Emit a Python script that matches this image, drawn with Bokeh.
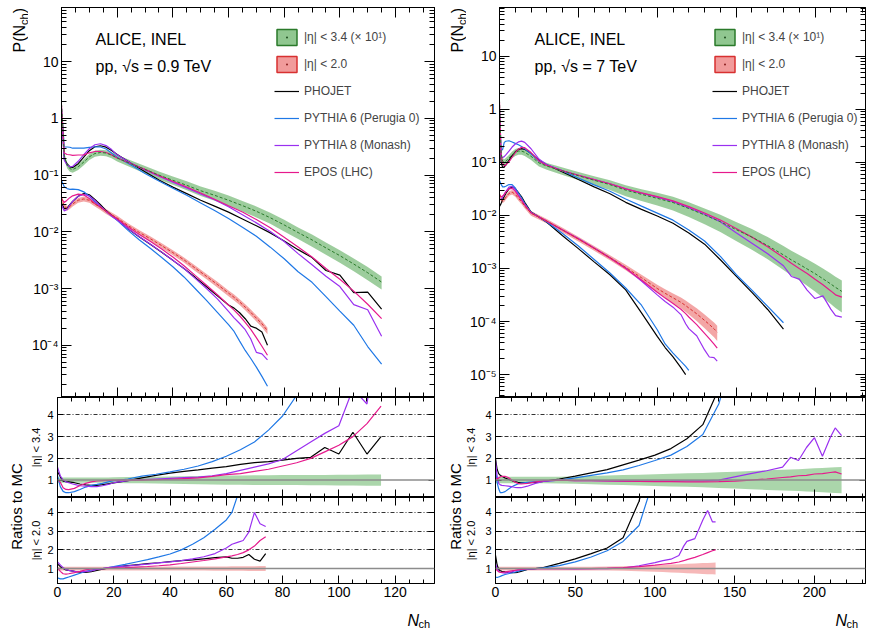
import numpy as np
from bokeh.plotting import figure
from bokeh.layouts import row, column
from bokeh.models import (Range1d, FixedTicker, LinearAxis, LogAxis,
                          CustomJSTickFormatter, Label, Span, Legend, LegendItem)
from bokeh.embed import file_html
from bokeh.resources import INLINE

nan = float("nan")
FONT = "Liberation Sans"

# ---------------- sqrt(s) = 0.9 TeV ----------------
# |eta| < 3.4 (drawn x10)
lw_n = [0, 1, 2, 3, 4, 6, 8, 10, 12, 14, 16, 18, 20, 25, 30, 35, 40, 45, 50, 55,
        60, 65, 70, 75, 80, 85, 90, 95, 100, 105, 110, 115]
lw_data = [1.8, 0.22, 0.15, 0.13, 0.125, 0.14, 0.17, 0.21, 0.24, 0.25, 0.245, 0.225, 0.20,
           0.158, 0.126, 0.10, 0.081, 0.066, 0.053, 0.044, 0.036, 0.029, 0.023, 0.0177,
           0.0132, 0.0097, 0.0072, 0.0052, 0.0038, 0.0027, 0.0019, 0.0013]
lw_err = [0.12] * 12 + [0.13, 0.14, 0.15, 0.16, 0.17, 0.18, 0.19, 0.2, 0.21, 0.21, 0.22,
                        0.22, 0.23, 0.23, 0.24, 0.24, 0.25, 0.25, 0.26, 0.26]
lw_r_phojet = [1.4, 1.15, 0.95, 0.93, 0.92, 0.88, 0.82, 0.78, 0.76, 0.76, 0.79, 0.83, 0.87,
               0.98, 1.1, 1.22, 1.32, 1.4, 1.47, 1.55, 1.62, 1.72, 1.8, 1.85, 1.92, 2.0,
               2.05, 2.5, 2.2, 3.2, 2.2, 3.0]
lw_r_py6 = [1.2, 0.7, 0.48, 0.42, 0.42, 0.47, 0.57, 0.68, 0.76, 0.8, 0.85, 0.92, 0.97,
            1.05, 1.18, 1.27, 1.38, 1.5, 1.65, 1.85, 2.1, 2.4, 2.75, 3.3, 3.95, 4.9, 5.6,
            7.2, 9.5, 12.0, 20.0, 28.0]
lw_r_py8 = [1.6, 1.2, 1.0, 0.92, 0.88, 0.8, 0.74, 0.72, 0.7, 0.7, 0.74, 0.8, 0.88,
            0.98, 1.02, 1.05, 1.08, 1.11, 1.14, 1.2, 1.3, 1.45, 1.6, 1.75, 1.95, 2.35,
            2.75, 3.15, 3.5, 5.2, 4.5, 9.0]
lw_r_epos = [1.05, 0.9, 0.65, 0.57, 0.56, 0.62, 0.75, 0.85, 0.92, 0.96, 0.98, 0.99, 1.0,
             1.0, 1.0, 1.02, 1.04, 1.07, 1.1, 1.17, 1.25, 1.3, 1.4, 1.5, 1.65, 1.8, 2.0,
             2.3, 2.6, 3.0, 3.6, 4.4]
# |eta| < 2.0
ln_n = [0, 1, 2, 3, 4, 6, 8, 10, 12, 14, 16, 18, 20, 24, 28, 32, 36, 40, 44, 48, 52, 56,
        60, 62, 64, 66, 68, 70, 72, 74]
ln_data = [0.04, 0.028, 0.026, 0.028, 0.031, 0.036, 0.038, 0.036, 0.031, 0.027, 0.023,
           0.02, 0.0175, 0.0128, 0.0097, 0.0075, 0.0057, 0.0043, 0.0032, 0.0023, 0.00165,
           0.00118, 0.00083, 0.0007, 0.00058, 0.00047, 0.00038, 0.0003, 0.00024, 0.00018]
ln_err = [0.1] * 17 + [0.105, 0.105, 0.11, 0.11, 0.115, 0.115, 0.12, 0.12, 0.12, 0.125,
                       0.125, 0.13, 0.13]
ln_r_phojet = [1.25, 1.1, 1.0, 0.93, 0.9, 0.85, 0.8, 0.8, 0.83, 0.9, 0.97, 1.02, 1.07,
               1.14, 1.2, 1.26, 1.31, 1.37, 1.42, 1.46, 1.52, 1.58, 1.62, 1.55, 1.55, 1.6,
               1.75, 1.5, 1.4, 1.8]
ln_r_py6 = [0.5, 0.45, 0.45, 0.5, 0.55, 0.65, 0.75, 0.85, 0.92, 0.97, 1.0, 1.05, 1.1,
            1.22, 1.35, 1.48, 1.62, 1.78, 2.0, 2.3, 2.65, 3.1, 3.6, 4.0, 4.9, 5.8, 6.5,
            7.3, 8.5, 9.5]
ln_r_py8 = [1.35, 1.2, 1.05, 0.95, 0.9, 0.85, 0.83, 0.84, 0.87, 0.95, 1.0, 1.05, 1.08,
            1.13, 1.18, 1.24, 1.3, 1.36, 1.42, 1.52, 1.63, 1.8, 2.1, 2.3, 2.4, 2.5, 2.95,
            4.0, 3.4, 3.25]
ln_r_epos = [1.05, 0.85, 0.72, 0.7, 0.72, 0.78, 0.85, 0.93, 0.98, 1.0, 1.0, 1.02, 1.03,
             1.05, 1.08, 1.11, 1.15, 1.2, 1.27, 1.35, 1.43, 1.52, 1.62, 1.68, 1.75, 1.85,
             2.0, 2.2, 2.5, 2.7]

# ---------------- sqrt(s) = 7 TeV ----------------
rw_n = [0, 1, 2, 3, 4, 6, 8, 10, 12, 14, 16, 20, 25, 30, 40, 50, 60, 70, 80, 90, 100, 110,
        120, 130, 140, 150, 160, 170, 180, 185, 190, 195, 200, 205, 210, 213, 217]
rw_data = [1.5, 0.15, 0.105, 0.1, 0.105, 0.12, 0.14, 0.155, 0.163, 0.163, 0.155, 0.13,
           0.098, 0.085, 0.069, 0.056, 0.046, 0.038, 0.030, 0.025, 0.021, 0.0175, 0.0135,
           0.0102, 0.0076, 0.0054, 0.0039, 0.0027, 0.0018, 0.00145, 0.0012, 0.00098,
           0.0008, 0.00064, 0.00051, 0.00044, 0.00037]
rw_err = [0.15] * 14 + [0.16, 0.17, 0.19, 0.21, 0.23, 0.25, 0.27, 0.29, 0.31, 0.33, 0.36,
                        0.39, 0.42, 0.45, 0.48, 0.49, 0.5, 0.52, 0.54, 0.56, 0.58, 0.59, 0.6]
rw_r_phojet = [2.0, 1.5, 1.3, 1.22, 1.18, 1.1, 1.04, 0.98, 0.93, 0.9, 0.88, 0.88, 0.9,
               0.94, 1.05, 1.18, 1.33, 1.48, 1.7, 1.92, 2.15, 2.45, 2.9, 3.55, 5.2, 7.5,
               11.0, 16.0, 25.0] + [nan] * 8
rw_r_py6 = [1.5, 0.9, 0.6, 0.42, 0.42, 0.47, 0.58, 0.68, 0.76, 0.82, 0.86, 0.9, 0.93,
            0.95, 1.0, 1.1, 1.22, 1.33, 1.47, 1.67, 1.9, 2.15, 2.55, 3.1, 4.5, 7.0, 10.0,
            14.0, 19.0] + [nan] * 8
rw_r_py8 = [1.9, 1.2, 0.85, 0.78, 0.76, 0.74, 0.72, 0.7, 0.67, 0.65, 0.65, 0.72, 0.85,
            0.94, 1.0, 0.98, 0.97, 0.96, 0.95, 0.95, 0.95, 0.96, 0.97, 0.97, 1.0, 1.15,
            1.3, 1.43, 1.6, 2.05, 1.9, 2.5, 2.95, 2.1, 2.97, 3.4, 3.05]
rw_r_epos = [1.1, 1.05, 1.1, 1.15, 1.17, 1.17, 1.12, 1.02, 0.92, 0.85, 0.82, 0.85, 0.92,
             0.97, 1.0, 0.98, 0.97, 0.96, 0.95, 0.94, 0.93, 0.93, 0.92, 0.92, 0.93, 0.95,
             1.0, 1.05, 1.12, 1.15, 1.2, 1.22, 1.28, 1.3, 1.35, 1.38, 1.28]
rn_n = [0, 1, 2, 3, 4, 6, 8, 10, 12, 14, 16, 20, 25, 30, 40, 50, 60, 70, 80, 90, 100, 105,
        110, 115, 118, 120, 125, 130, 133, 136, 138]
rn_data = [0.025, 0.02, 0.019, 0.02, 0.022, 0.026, 0.0275, 0.025, 0.021, 0.018, 0.015,
           0.011, 0.0093, 0.0078, 0.0053, 0.0036, 0.0024, 0.0016, 0.00105, 0.00067,
           0.00042, 0.00034, 0.00028, 0.00023, 0.0002, 0.00018, 0.00014, 0.000105,
           8.8e-5, 7.3e-5, 6.3e-5]
rn_err = [0.1] * 17 + [0.11, 0.12, 0.14, 0.17, 0.19, 0.21, 0.23, 0.24, 0.25, 0.27, 0.29,
                       0.3, 0.31, 0.32]
rn_r_phojet = [1.7, 1.2, 0.95, 0.88, 0.85, 0.82, 0.8, 0.78, 0.78, 0.8, 0.85, 0.95, 1.0,
               1.05, 1.28, 1.52, 1.8, 2.1, 2.65, 4.6, 8.0, 10.5, 13.0, 17.0, 20.0] + [nan] * 6
rn_r_py6 = [0.55, 0.52, 0.55, 0.58, 0.62, 0.68, 0.72, 0.76, 0.8, 0.85, 0.9, 0.96, 1.0,
            1.04, 1.16, 1.36, 1.62, 1.95, 2.45, 3.3, 6.0, 9.0, 11.0, 13.0, 14.0, 15.0] + [nan] * 5
rn_r_py8 = [1.25, 1.0, 0.85, 0.8, 0.78, 0.76, 0.78, 0.82, 0.87, 0.92, 0.95, 0.98, 1.0,
            1.0, 1.0, 0.98, 0.99, 1.0, 1.03, 1.15, 1.32, 1.42, 1.5, 1.7, 2.2, 2.45, 2.6,
            3.6, 4.1, 3.5, 3.5]
rn_r_epos = [1.0, 0.9, 0.82, 0.8, 0.8, 0.82, 0.85, 0.88, 0.9, 0.93, 0.95, 0.98, 1.0, 1.0,
             1.0, 1.0, 1.0, 1.02, 1.05, 1.1, 1.18, 1.23, 1.28, 1.35, 1.42, 1.48, 1.6, 1.75,
             1.85, 1.95, 2.0]

models = ["PHOJET", "PYTHIA 6 (Perugia 0)", "PYTHIA 8 (Monash)", "EPOS (LHC)"]
colors = ["black", "#1f78e6", "#9a30f0", "#e6198c"]

GREEN_FILL, GREEN_LINE = "#84c184", "#2a7a2a"
RED_FILL, RED_LINE = "#f09090", "#d83030"

LOG_FMT = """
const e = Math.round(Math.log10(tick));
if (e === 1) return '10';
if (e === 0) return '1';
const sup = {'-': '\u207b', '0': '\u2070', '1': '\u00b9', '2': '\u00b2', '3': '\u00b3',
             '4': '\u2074', '5': '\u2075', '6': '\u2076', '7': '\u2077', '8': '\u2078', '9': '\u2079'};
return '10' + String(e).split('').map(c => sup[c]).join('');
"""

MAIN_TB = 7
MAIN_H = 390 + MAIN_TB   # main panel: frame 390 + top border
R1_H = 100
R2_BB = 20
R2_H = 86 + R2_BB        # ratio frame 86 + tick-label border
STRIP_H = 26


def log_ticker():
    return FixedTicker(ticks=[10.0 ** e for e in range(-6, 3)],
                       minor_ticks=[k * 10.0 ** e for e in range(-6, 2) for k in range(2, 10)])


def base_fig(w, h, xr, yr, ylog, bl, br, bt, bb):
    p = figure(width=w, height=h, x_range=xr, y_range=yr,
               y_axis_type="log" if ylog else "linear",
               output_backend="svg", toolbar_location=None,
               min_border_left=bl, min_border_right=br,
               min_border_top=bt, min_border_bottom=bb)
    p.outline_line_color = "black"
    p.outline_line_width = 1
    p.xgrid.visible = False
    p.ygrid.visible = False
    return p


def text_fig(w, h):
    p = figure(width=w, height=h, x_axis_type=None, y_axis_type=None,
               x_range=Range1d(0, 1), y_range=Range1d(0, 1),
               output_backend="svg", toolbar_location=None, min_border=0)
    p.outline_line_color = None
    return p


def style_axis(ax, lens, labels, size, standoff=4):
    ax.major_tick_in, ax.minor_tick_in = lens
    ax.major_tick_out = 0
    ax.minor_tick_out = 0
    ax.axis_line_color = "black"
    ax.major_tick_line_color = "black"
    ax.minor_tick_line_color = "black"
    ax.major_label_text_font = FONT
    ax.major_label_text_color = "black"
    if labels:
        ax.major_label_text_font_size = size
        ax.major_label_standoff = standoff
    else:
        ax.formatter = CustomJSTickFormatter(code="return '';")
        ax.major_label_text_font_size = "0px"
        ax.major_label_standoff = 0


def frame_axes(p, xt, yt, ylog, xlen, ylen, xlabels, ylabels, xsize, ysize, yfmt=None, ystand=4):
    bx = p.xaxis[0]
    ly = p.yaxis[0]
    bx.ticker = xt
    ly.ticker = yt
    style_axis(bx, xlen, xlabels, xsize, 3)
    style_axis(ly, ylen, ylabels, ysize, ystand)
    if ylabels and yfmt is not None:
        ly.formatter = yfmt
    top = LinearAxis(ticker=xt)
    style_axis(top, xlen, False, xsize)
    p.add_layout(top, "above")
    rgt = (LogAxis if ylog else LinearAxis)(ticker=yt)
    style_axis(rgt, ylen, False, ysize)
    p.add_layout(rgt, "right")


def add_label(p, text, x, y, size, angle=0.0, align="left", baseline="alphabetic", style="normal"):
    p.add_layout(Label(x=x, y=y, x_units="screen", y_units="screen", text=text,
                       text_font=FONT, text_font_size=size, angle=angle,
                       text_align=align, text_baseline=baseline,
                       text_font_style=style, text_color="black"))


def main_panel(w, bl, br, xr, yr, xt, wide, narrow, energy, tx):
    p = base_fig(w, MAIN_H, xr, yr, True, bl, br, MAIN_TB, 0)
    frame_axes(p, xt, log_ticker(), True, (10, 5), (10, 5), False, True,
               "14px", "14px", CustomJSTickFormatter(code=LOG_FMT), ystand=3)
    first_lines = None
    for (n, d, e, ratios, fill, cline) in [wide, narrow]:
        n = np.array(n, dtype=float)
        d = np.array(d, dtype=float)
        e = np.array(e, dtype=float)
        p.varea(x=n, y1=d * (1 - e), y2=d * (1 + e), fill_color=fill, fill_alpha=0.8)
        rs = []
        for r, c in zip(ratios, colors):
            mc = d / np.array(r, dtype=float)
            rs.append(p.line(n, mc, line_color=c, line_width=1.2))
        p.line(n, d, line_color=cline, line_width=1, line_dash="3 2")
        if first_lines is None:
            first_lines = rs
    # legend proxies (NaN positions: never drawn in the plot area)
    qg = p.quad(left=[nan], right=[nan], top=[nan], bottom=[nan], fill_color=GREEN_FILL,
                fill_alpha=0.9, line_color=GREEN_LINE, line_width=1.5)
    dg = p.scatter(x=[nan], y=[nan], marker="dot", size=3, color="#1e4e1e")
    qr = p.quad(left=[nan], right=[nan], top=[nan], bottom=[nan], fill_color=RED_FILL,
                fill_alpha=0.9, line_color=RED_LINE, line_width=1.5)
    dr = p.scatter(x=[nan], y=[nan], marker="dot", size=3, color="#8a1e1e")
    items = [LegendItem(label="|η| < 3.4 (× 10¹)", renderers=[qg, dg]),
             LegendItem(label="|η| < 2.0", renderers=[qr, dr])]
    for name, rend in zip(models, first_lines):
        items.append(LegendItem(label=name, renderers=[rend]))
    leg = Legend(items=items, location=(213, 215), orientation="vertical",
                 glyph_width=25, glyph_height=20, label_height=20, spacing=7,
                 padding=0, margin=0, label_standoff=5,
                 label_text_font=FONT, label_text_font_size="12px",
                 border_line_alpha=0, background_fill_alpha=0)
    p.add_layout(leg)
    add_label(p, "ALICE, INEL", tx, 358, "16px")
    add_label(p, energy, tx, 331, "16px")
    return p


def ytitle_fig(w, cx):
    p = text_fig(w, MAIN_H)
    add_label(p, "P(N", cx, 345, "16px", angle=np.pi / 2, baseline="middle")
    add_label(p, "ch", cx + 4, 372.6, "11px", angle=np.pi / 2, baseline="middle")
    add_label(p, ")", cx, 384.2, "16px", angle=np.pi / 2, baseline="middle")
    return p


def ratio_panel(w, h, bl, br, bb, xr, xt, n, e, ratios, fill, xlabels):
    p = base_fig(w, h, xr, Range1d(0.2, 4.8), False, bl, br, 0, bb)
    frame_axes(p, xt, FixedTicker(ticks=[1, 2, 3, 4], minor_ticks=[]), False,
               (8, 4), (6, 3), xlabels, True, "14px", "11px")
    g = p.ygrid[0]
    g.visible = True
    g.ticker = FixedTicker(ticks=[2, 3, 4], minor_ticks=[])
    g.grid_line_color = "#333333"
    g.grid_line_dash = "4 2 1 2"
    g.grid_line_width = 1
    n = np.array(n, dtype=float)
    e = np.array(e, dtype=float)
    p.varea(x=n, y1=1 - e, y2=1 + e, fill_color=fill, fill_alpha=0.75)
    p.add_layout(Span(location=1, dimension="width", line_color="#8c8c8c", line_width=1.5))
    for r, c in zip(ratios, colors):
        p.line(n, np.array(r, dtype=float), line_color=c, line_width=1.2)
    return p


def side_fig(w, x_ratio, x_eta):
    h = R1_H + R2_H + STRIP_H
    p = text_fig(w, h)
    add_label(p, "Ratios to MC", x_ratio, h - 109, "15px", angle=np.pi / 2,
              align="center", baseline="middle")
    add_label(p, "|η| < 3.4", x_eta, h - R1_H / 2, "11px", angle=np.pi / 2,
              align="center", baseline="middle")
    add_label(p, "|η| < 2.0", x_eta, h - R1_H - 43, "11px", angle=np.pi / 2,
              align="center", baseline="middle")
    return p


def strip_fig(w, nx):
    p = text_fig(w, STRIP_H)
    add_label(p, "N", nx, 9, "16px", style="italic")
    add_label(p, "ch", nx + 11, 6, "11px")
    return p


def column_block(yt_w, yt_cx, main_w, bl_main, br, lab_w, x_ratio, x_eta, xmax,
                 xt_major, xt_minor, wide, narrow, energy, tx, nx):
    xr = Range1d(0, xmax)
    xt = FixedTicker(ticks=list(range(0, xmax + 1, xt_major)),
                     minor_ticks=list(range(0, xmax + 1, xt_minor)))
    yr = wide[-1]
    mp = main_panel(main_w, bl_main, br, xr, yr, xt, wide[:-1], narrow, energy, tx)
    total = yt_w + main_w
    rw = total - lab_w
    r1 = ratio_panel(rw, R1_H, 15, br, 0, xr, xt, wide[0], wide[2], wide[3], "#8fc88f", False)
    r2 = ratio_panel(rw, R2_H, 15, br, R2_BB, xr, xt, narrow[0], narrow[2], narrow[3],
                     "#f3a0a0", True)
    top = row(ytitle_fig(yt_w, yt_cx), mp)
    bottom = row(side_fig(lab_w, x_ratio, x_eta), column(r1, r2, strip_fig(rw, nx)))
    return column(top, bottom)


left = column_block(
    28, 19, 408, 29, 2, 42, 16, 35, 134, 20, 5,
    (lw_n, lw_data, lw_err, [lw_r_phojet, lw_r_py6, lw_r_py8, lw_r_epos], GREEN_FILL, GREEN_LINE,
     Range1d(1.2e-5, 90)),
    (ln_n, ln_data, ln_err, [ln_r_phojet, ln_r_py6, ln_r_py8, ln_r_epos], RED_FILL, RED_LINE),
    "pp, √s = 0.9 TeV", 34, 350)
right = column_block(
    30, 21, 401, 29, 2, 44, 19, 34, 232, 50, 10,
    (rw_n, rw_data, rw_err, [rw_r_phojet, rw_r_py6, rw_r_py8, rw_r_epos], GREEN_FILL, GREEN_LINE,
     Range1d(3.7e-6, 83)),
    (rn_n, rn_data, rn_err, [rn_r_phojet, rn_r_py6, rn_r_py8, rn_r_epos], RED_FILL, RED_LINE),
    "pp, √s = 7 TeV", 35, 340)

page = row(left, right)
open("out.html", "w").write(file_html(page, INLINE))
